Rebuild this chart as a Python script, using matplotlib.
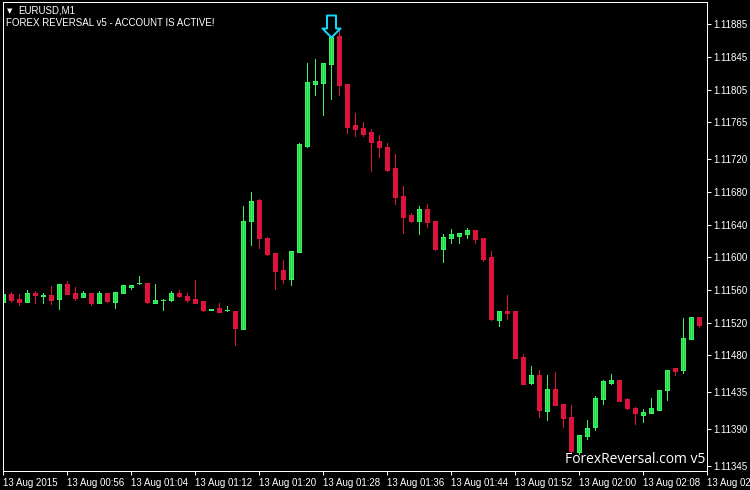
import numpy as np
import matplotlib.pyplot as plt
import pandas as pd
from matplotlib.path import Path

# EURUSD M1 bars, 13 Aug 2015 from 00:48
opens = [1.11545, 1.11555, 1.11549, 1.11545, 1.11556, 1.11553, 1.11554, 1.11549, 1.11567, 1.11556,
         1.11551, 1.11556, 1.11544, 1.11556, 1.11545, 1.11556, 1.11564, 1.11568, 1.11568, 1.11544,
         1.11548, 1.11548, 1.11556, 1.11553, 1.11549, 1.11547, 1.11535, 1.11538, 1.11535, 1.11534,
         1.11512, 1.11644, 1.11670, 1.11624, 1.11605, 1.11584, 1.11573, 1.11606, 1.11736, 1.11812,
         1.11813, 1.11836, 1.11871, 1.11812, 1.11762, 1.11758, 1.11753, 1.11742, 1.11735, 1.11709,
         1.11675, 1.11652, 1.11644, 1.11659, 1.11644, 1.11610, 1.11624, 1.11626, 1.11628, 1.11633,
         1.11624, 1.11600, 1.11523, 1.11534, 1.11534, 1.11478, 1.11446, 1.11456, 1.11412, 1.11439,
         1.11420, 1.11405, 1.11362, 1.11381, 1.11392, 1.11427, 1.11446, 1.11450, 1.11427, 1.11416,
         1.11407, 1.11409, 1.11413, 1.11438, 1.11465, 1.11462, 1.11500, 1.11527]
highs = [1.11556, 1.11557, 1.11555, 1.11560, 1.11559, 1.11556, 1.11565, 1.11567, 1.11571, 1.11564,
         1.11559, 1.11556, 1.11559, 1.11556, 1.11557, 1.11566, 1.11566, 1.11577, 1.11568, 1.11567,
         1.11549, 1.11559, 1.11560, 1.11556, 1.11572, 1.11547, 1.11537, 1.11544, 1.11540, 1.11534,
         1.11663, 1.11680, 1.11671, 1.11625, 1.11605, 1.11597, 1.11608, 1.11740, 1.11838, 1.11843,
         1.11838, 1.11869, 1.11877, 1.11812, 1.11776, 1.11766, 1.11757, 1.11749, 1.11740, 1.11726,
         1.11687, 1.11654, 1.11663, 1.11665, 1.11644, 1.11628, 1.11635, 1.11630, 1.11636, 1.11633,
         1.11624, 1.11608, 1.11534, 1.11554, 1.11534, 1.11482, 1.11467, 1.11462, 1.11456, 1.11460,
         1.11420, 1.11419, 1.11383, 1.11401, 1.11430, 1.11450, 1.11457, 1.11450, 1.11428, 1.11417,
         1.11414, 1.11428, 1.11438, 1.11462, 1.11465, 1.11526, 1.11527, 1.11527]
lows = [1.11545, 1.11545, 1.11542, 1.11545, 1.11544, 1.11544, 1.11543, 1.11537, 1.11555, 1.11548,
        1.11551, 1.11542, 1.11544, 1.11545, 1.11538, 1.11556, 1.11561, 1.11567, 1.11544, 1.11544,
        1.11535, 1.11547, 1.11551, 1.11545, 1.11544, 1.11534, 1.11535, 1.11533, 1.11534, 1.11493,
        1.11512, 1.11615, 1.11611, 1.11603, 1.11561, 1.11569, 1.11566, 1.11606, 1.11735, 1.11799,
        1.11774, 1.11794, 1.11799, 1.11752, 1.11748, 1.11748, 1.11706, 1.11723, 1.11706, 1.11665,
        1.11630, 1.11643, 1.11628, 1.11637, 1.11609, 1.11594, 1.11618, 1.11618, 1.11624, 1.11618,
        1.11595, 1.11523, 1.11516, 1.11524, 1.11477, 1.11445, 1.11445, 1.11405, 1.11401, 1.11419,
        1.11392, 1.11361, 1.11359, 1.11378, 1.11389, 1.11420, 1.11445, 1.11424, 1.11414, 1.11396,
        1.11398, 1.11409, 1.11413, 1.11425, 1.11456, 1.11458, 1.11500, 1.11515]
closes = [1.11555, 1.11548, 1.11545, 1.11556, 1.11554, 1.11554, 1.11548, 1.11567, 1.11555, 1.11550,
          1.11556, 1.11544, 1.11556, 1.11547, 1.11557, 1.11566, 1.11566, 1.11568, 1.11545, 1.11548,
          1.11548, 1.11556, 1.11553, 1.11548, 1.11544, 1.11535, 1.11537, 1.11533, 1.11536, 1.11513,
          1.11644, 1.11669, 1.11624, 1.11604, 1.11583, 1.11573, 1.11608, 1.11739, 1.11814, 1.11816,
          1.11838, 1.11869, 1.11811, 1.11759, 1.11757, 1.11751, 1.11741, 1.11735, 1.11707, 1.11674,
          1.11649, 1.11644, 1.11659, 1.11643, 1.11610, 1.11625, 1.11628, 1.11630, 1.11633, 1.11622,
          1.11598, 1.11524, 1.11534, 1.11532, 1.11477, 1.11445, 1.11456, 1.11413, 1.11439, 1.11419,
          1.11403, 1.11363, 1.11383, 1.11391, 1.11428, 1.11449, 1.11450, 1.11424, 1.11416, 1.11409,
          1.11411, 1.11416, 1.11438, 1.11462, 1.11461, 1.11501, 1.11527, 1.11517]
start_time = '2015-08-13 00:48'
price_ticks = [1.11345, 1.11390, 1.11435, 1.11480, 1.11520, 1.11560, 1.11600,
               1.11640, 1.11680, 1.11720, 1.11765, 1.11805, 1.11845, 1.11885]
signal_bar = 41

W, H = 750, 490
bull = '#20D845'
bull_edge = '#3CF064'
bear = '#DC143C'
px = 0.72  # one pixel in points at dpi 100

df = pd.DataFrame({'open': opens, 'high': highs, 'low': lows, 'close': closes},
                  index=pd.date_range(start_time, periods=len(opens), freq='min'))
x = np.arange(len(df))
up = (df['close'] >= df['open']).values
cols = np.where(up, bull, bear)
edges = np.where(up, bull_edge, bear)

fig = plt.figure(figsize=(W / 100, H / 100), dpi=100, facecolor='black')
ax = fig.add_axes([3 / W, 19 / H, 704 / W, 469 / H], facecolor='black')

ax.vlines(x, df['low'], df['high'], colors=edges, lw=px, antialiased=False)
body_bot = np.minimum(df['open'], df['close'])
body_h = (df['close'] - df['open']).abs()
ax.bar(x, body_h, bottom=body_bot, width=0.5, color=cols, edgecolor=edges, lw=px,
       antialiased=False)

# signal arrow over the top bar
arrow = Path([(-4.5, 22), (4.5, 22), (4.5, 9), (9, 9), (0, 0), (-9, 9), (-4.5, 9), (-4.5, 22)],
             [Path.MOVETO] + [Path.LINETO] * 6 + [Path.CLOSEPOLY])
ax.plot(signal_bar, df['high'].iloc[signal_bar] + 0.00001, marker=arrow, ms=31.7,
        mfc='none', mec='#10D8FA', mew=2 * px)

ax.set_xlim(-0.06, 87.94)
ax.set_ylim(1.113385, 1.119123)

for s in ax.spines.values():
    s.set_color('white')
    s.set_linewidth(px)

ax.yaxis.tick_right()
ax.set_yticks(price_ticks)
ax.set_yticklabels(['%.5f' % p for p in price_ticks])
ax.tick_params(axis='y', colors='white', length=3, width=px, pad=1.5, labelsize=7)

xt = np.arange(0, len(df) + 1, 8)
times = pd.date_range(start_time, periods=len(df) + 1, freq='min')[xt]
xl = [t.strftime('%d %b %Y') if i == 0 else t.strftime('%d %b %H:%M') for i, t in enumerate(times)]
ax.set_xticks(xt)
ax.set_xticklabels(xl, ha='left')
ax.tick_params(axis='x', colors='white', length=3, width=px, pad=2, labelsize=7)
for lab in ax.get_xticklabels() + ax.get_yticklabels():
    lab.set_family('Liberation Sans')
    lab.set_color('white')

fig.text(7 / W, 1 - 11 / H, '\u25bc', color='white', fontsize=5, va='center', family='DejaVu Sans')
fig.text(18 / W, 1 - 10.5 / H, 'EURUSD,M1', color='white', fontsize=7, va='center',
         family='Liberation Sans')
fig.text(6 / W, 1 - 23 / H, 'FOREX REVERSAL v5 - ACCOUNT IS ACTIVE!', color='white', fontsize=7,
         va='center', family='Liberation Sans')
fig.text(705 / W, 1 - 459 / H, 'ForexReversal.com v5', color='white', fontsize=10, ha='right',
         va='center', family='Open Sans')

fig.savefig('out.png', dpi=100, facecolor='black')
